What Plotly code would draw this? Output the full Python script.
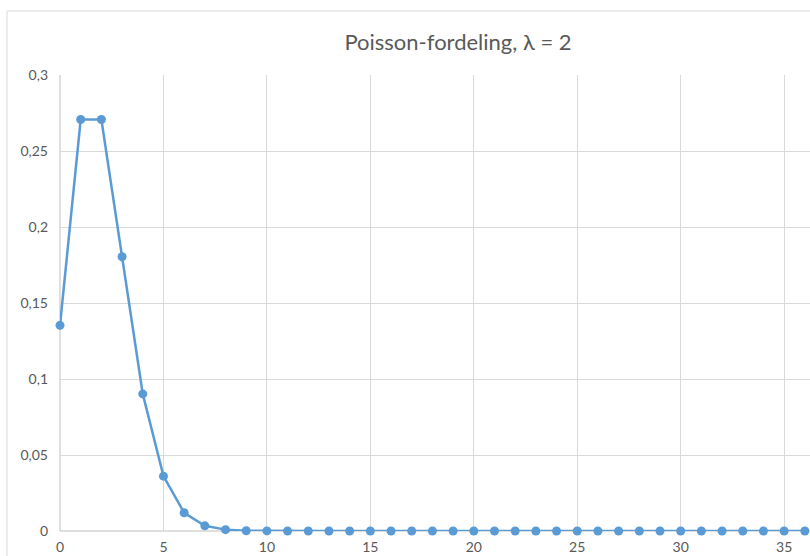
import plotly.graph_objects as go

# Data
k_values = list(range(0, 37))
probabilities = [0.1353, 0.2707, 0.2707, 0.1804, 0.0902, 0.0361, 0.0120, 0.0034,
                 0.0009, 0.0002, 0.00004, 0.00001, 0.0, 0.0, 0.0, 0.0, 0.0, 0.0,
                 0.0, 0.0, 0.0, 0.0, 0.0, 0.0, 0.0, 0.0, 0.0, 0.0, 0.0, 0.0,
                 0.0, 0.0, 0.0, 0.0, 0.0, 0.0, 0.0]
y_tickvals = [0, 0.05, 0.1, 0.15, 0.2, 0.25, 0.3]
y_ticktext = ["0", "0,05", "0,1", "0,15", "0,2", "0,25", "0,3"]
x_tickvals = [0, 5, 10, 15, 20, 25, 30, 35]
x_ticktext = ["0", "5", "10", "15", "20", "25", "30", "35"]
title_text = "Poisson-fordeling, λ = 2"

FONT = "Lato, Open Sans, sans-serif"
GRID = "#D9D9D9"
TXT = "#595959"

fig = go.Figure()
fig.add_trace(go.Scatter(
    x=k_values, y=probabilities, mode="lines+markers",
    line=dict(color="#5B9BD5", width=2.5),
    marker=dict(color="#5B9BD5", size=9),
    cliponaxis=False, showlegend=False,
))

fig.update_layout(
    width=810, height=556,
    margin=dict(l=60, r=0, t=75, b=25),
    paper_bgcolor="white", plot_bgcolor="white",
    font=dict(family=FONT, color=TXT, size=14),
    title=dict(text=title_text, x=458 / 810, xanchor="center",
               y=1 - 42 / 556, yanchor="middle",
               font=dict(family=FONT, size=22, color=TXT)),
    xaxis=dict(range=[0, 36.25], tickvals=x_tickvals, ticktext=x_ticktext,
               showgrid=True, gridcolor=GRID, gridwidth=1, automargin=False,
               zeroline=False, showline=False, ticks="", ticklabelstandoff=6,
               tickfont=dict(size=14, color=TXT)),
    yaxis=dict(range=[0, 0.3], tickvals=y_tickvals, ticktext=y_ticktext,
               showgrid=True, gridcolor=GRID, gridwidth=1, automargin=False,
               zeroline=False, showline=False, ticks="", ticklabelstandoff=11,
               tickfont=dict(size=14, color=TXT)),
    shapes=[
        # chart border (top and left)
        dict(type="line", xref="paper", yref="paper",
             x0=(7 - 60) / 750, x1=1.01, y0=(531 - 11) / 456, y1=(531 - 11) / 456,
             line=dict(color="#D9D9D9", width=1)),
        dict(type="line", xref="paper", yref="paper",
             x0=(7 - 60) / 750, x1=(7 - 60) / 750, y0=(531 - 11) / 456, y1=-0.06,
             line=dict(color="#D9D9D9", width=1)),
        # bottom axis line and left edge
        dict(type="line", xref="paper", yref="paper", x0=0, x1=1, y0=0, y1=0,
             line=dict(color="#BFBFBF", width=1), layer="below"),
        dict(type="line", xref="paper", yref="paper", x0=0, x1=0, y0=0, y1=1,
             line=dict(color="#BFBFBF", width=1), layer="below"),
    ],
)

fig.write_html("out.html", config={"displayModeBar": False},
               post_script="document.body.style.margin='0';document.body.style.padding='0';")
